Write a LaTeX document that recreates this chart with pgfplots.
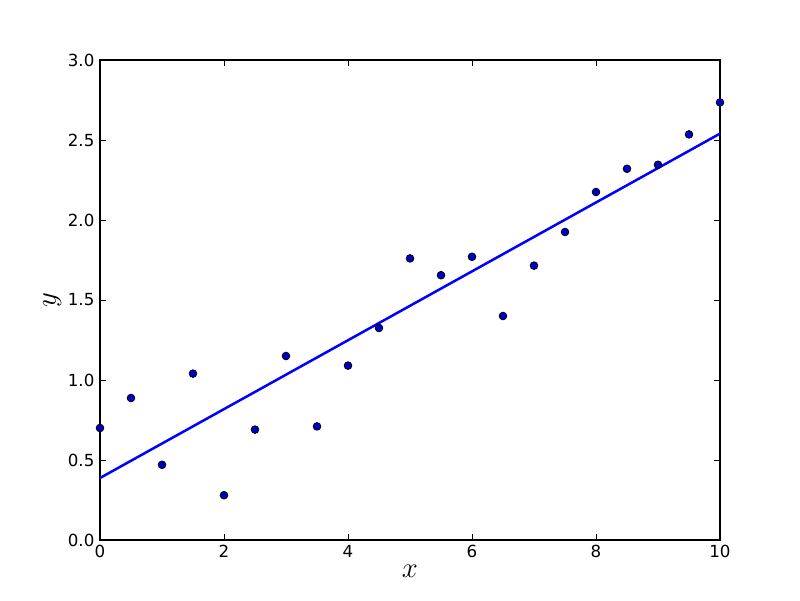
\documentclass[border=0pt]{standalone}
\usepackage{fontspec}
\setmainfont{DejaVu Sans}
\usepackage{pgfplots}
\pgfplotsset{compat=1.18}
\begin{document}
\begin{tikzpicture}[x=1pt,y=1pt]
\useasboundingbox (-72,-43.2) rectangle (504,388.8);
\begin{axis}[
  at={(0,0)}, anchor=south west,
  scale only axis, width=446.4pt, height=345.6pt,
  xmin=0, xmax=10, ymin=0, ymax=3,
  xtick={0,2,4,6,8,10},
  ytick={0,0.5,1,1.5,2,2.5,3},
  y tick label style={/pgf/number format/.cd,fixed,fixed zerofill,precision=1,/tikz/.cd},
  /pgf/number format/assume math mode=true,
  tick align=inside,
  tick pos=both,
  major tick length=4pt,
  axis line style={line width=0.9pt},
  every tick/.style={black, line width=0.6pt},
  tick label style={font=\fontsize{12}{14}\selectfont},
  x tick label style={yshift=-0.5pt},
  y tick label style={xshift=-0.5pt},
  xlabel={$x$}, ylabel={$y$},
  label style={font=\fontsize{21}{25}\selectfont},
  xlabel style={yshift=2pt},
  ylabel style={yshift=-2pt},
  clip=false,
]
\addplot[color={rgb,1:red,0;green,0;blue,1}, line width=1.8pt] coordinates {(0,0.3875) (10,2.54)};
\addplot[only marks, mark=*, mark size=2.8pt,
  mark options={fill={rgb,1:red,0;green,0;blue,0.75}, draw=black, line width=0.5pt}] coordinates {
(0,0.70) (0.5,0.8875) (1,0.47) (1.5,1.04) (2,0.28) (2.5,0.69) (3,1.15) (3.5,0.71)
(4,1.09) (4.5,1.325) (5,1.76) (5.5,1.655) (6,1.77) (6.5,1.40) (7,1.715) (7.5,1.925)
(8,2.175) (8.5,2.32) (9,2.345) (9.5,2.535) (10,2.735)
};
\end{axis}
\end{tikzpicture}
\end{document}
